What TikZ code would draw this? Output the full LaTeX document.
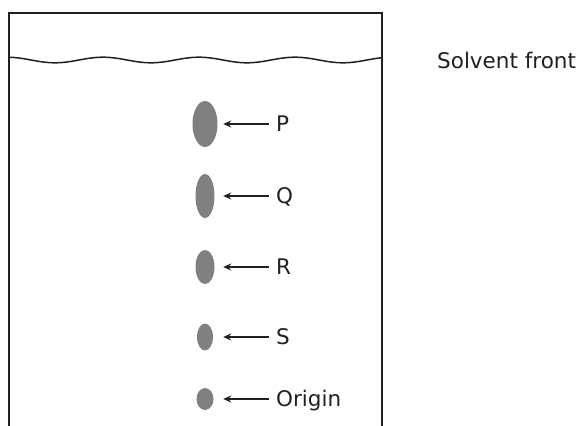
\documentclass[tikz,border=0pt]{standalone}
\usepackage{fontspec}
\setmainfont{DejaVu Sans}
\usetikzlibrary{shapes.geometric,arrows.meta}
\definecolor{spotgray}{HTML}{808080}
\definecolor{ink}{HTML}{231F20}
\begin{document}
\begin{tikzpicture}[x=1pt,y=-1pt,
  spot/.style={ellipse,fill=spotgray,draw=none,inner sep=0pt},
  lbl/.style={anchor=west,inner sep=0pt,text height=15.5pt,text depth=0pt,font=\fontsize{21.5}{24}\selectfont,text=ink},
  arr/.style={draw=ink,line width=1.8pt,-{Stealth[length=8pt,width=7pt]}},
  frame/.style={draw=ink,line width=1.6pt}]
\useasboundingbox (0,0) rectangle (579,426);
% jar
\draw[frame] (9,426) -- (9,13) -- (382,13) -- (382,426);
% solvent front
\draw[draw=ink,line width=1.5pt] plot[domain=9:382,samples=150,smooth] (\x,{60+2.8*cos((\x-55)*3.75)});
\node[lbl] (sf) at (437,61) {Solvent front};
% spots
\node[spot,minimum width=25pt,minimum height=46pt] (sP) at (205,124) {};
\node[spot,minimum width=19pt,minimum height=44pt] (sQ) at (205,196) {};
\node[spot,minimum width=19pt,minimum height=34pt] (sR) at (205,267) {};
\node[spot,minimum width=16pt,minimum height=27pt] (sS) at (205,337) {};
\node[spot,minimum width=17pt,minimum height=22pt] (sO) at (205,399) {};
% labels
\node[lbl] (lP) at (276,124) {P};
\node[lbl] (lQ) at (276,196) {Q};
\node[lbl] (lR) at (276,267) {R};
\node[lbl] (lS) at (276,337) {S};
\node[lbl] (lO) at (276,399) {Origin};
% arrows
\draw[arr,shorten <=7pt,shorten >=5.5pt] (lP.west) -- (sP.east);
\draw[arr,shorten <=7pt,shorten >=8.5pt] (lQ.west) -- (sQ.east);
\draw[arr,shorten <=7pt,shorten >=8.5pt] (lR.west) -- (sR.east);
\draw[arr,shorten <=7pt,shorten >=10pt] (lS.west) -- (sS.east);
\draw[arr,shorten <=7pt,shorten >=9.5pt] (lO.west) -- (sO.east);
\end{tikzpicture}
\end{document}
